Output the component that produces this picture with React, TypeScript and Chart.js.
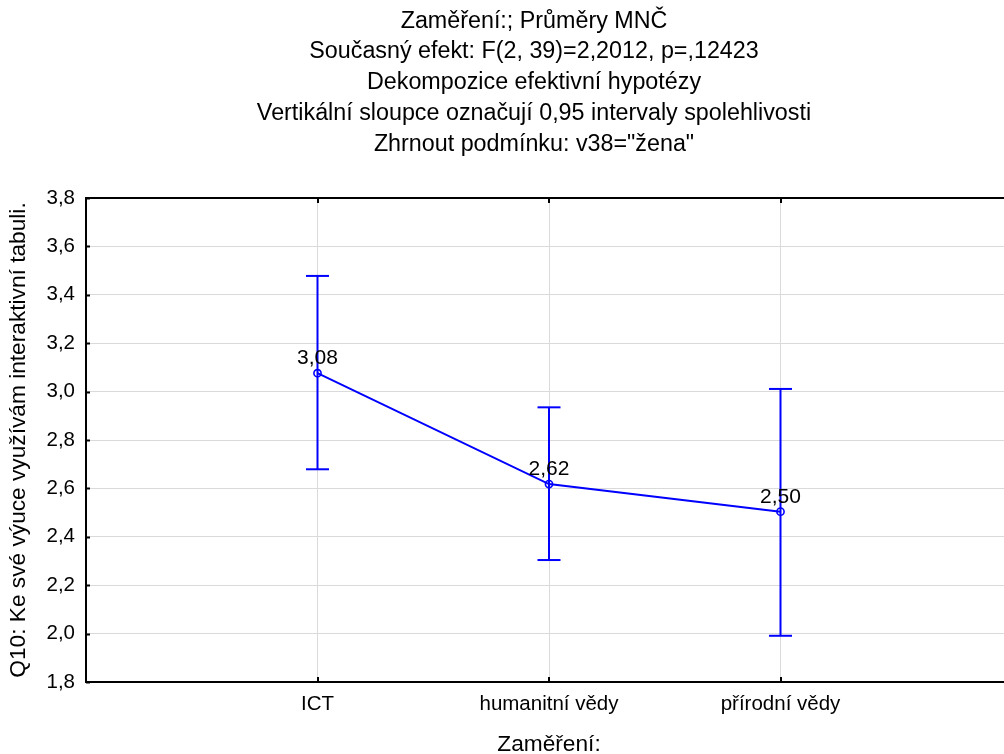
import React, { useEffect, useRef } from "react";
import { Chart, registerables } from "chart.js";

Chart.register(...registerables);

const categories = ["ICT", "humanitní vědy", "přírodní vědy"];
const means = [3.076, 2.618, 2.504];
const lowerCI = [2.679, 2.304, 1.991];
const upperCI = [3.478, 2.935, 3.011];
const yTicks = [1.8, 2.0, 2.2, 2.4, 2.6, 2.8, 3.0, 3.2, 3.4, 3.6, 3.8];
const titleLines = [
  "Zaměření:; Průměry MNČ",
  "Současný efekt: F(2, 39)=2,2012, p=,12423",
  "Dekompozice efektivní hypotézy",
  "Vertikální sloupce označují 0,95 intervaly spolehlivosti",
  'Zhrnout podmínku: v38="žena"',
];
const xTitle = "Zaměření:";
const yTitle = "Q10: Ke své výuce využívám interaktivní tabuli.";

const FONT = "'Liberation Sans', Arial, sans-serif";
const BLUE = "#0000ff";
const GRID = "#dadada";

const fmt2 = (v: number) => v.toFixed(2).replace(".", ",");
const fmt1 = (v: number) => v.toFixed(1).replace(".", ",");

const frameAndLabels = {
  id: "frameAndLabels",
  afterDatasetsDraw(chart: any) {
    const { ctx, chartArea } = chart;
    const xs = chart.scales.x;
    const ys = chart.scales.y;
    ctx.save();
    // top border
    ctx.strokeStyle = "#000";
    ctx.lineWidth = 2;
    ctx.beginPath();
    ctx.moveTo(chartArea.left, chartArea.top);
    ctx.lineTo(chartArea.right, chartArea.top);
    ctx.stroke();
    // inward tick marks
    xs.ticks.forEach((t: any) => {
      const px = Math.round(xs.getPixelForValue(t.value));
      ctx.beginPath();
      ctx.moveTo(px, chartArea.top);
      ctx.lineTo(px, chartArea.top + 5);
      ctx.moveTo(px, chartArea.bottom);
      ctx.lineTo(px, chartArea.bottom - 5);
      ctx.stroke();
    });
    ys.ticks.forEach((t: any) => {
      const py = Math.round(ys.getPixelForValue(t.value)) + 0.5;
      ctx.beginPath();
      ctx.moveTo(chartArea.left, py);
      ctx.lineTo(chartArea.left + 4, py);
      ctx.stroke();
    });
    // value labels
    const meta = chart.getDatasetMeta(0);
    ctx.fillStyle = "#000";
    ctx.font = `21px ${FONT}`;
    ctx.textAlign = "center";
    ctx.textBaseline = "alphabetic";
    meta.data.forEach((pt: any, i: number) => {
      ctx.fillText(fmt2(means[i]), pt.x, pt.y - 9);
    });
    ctx.restore();
  },
};

export default function App() {
  const ref = useRef<HTMLCanvasElement | null>(null);

  useEffect(() => {
    if (!ref.current) return;
    const pts = (arr: number[]) => arr.map((v, i) => ({ x: i + 1, y: v }));
    const whiskers = categories.map((_, i) => ({
      type: "line" as const,
      data: [
        { x: i + 1, y: lowerCI[i] },
        { x: i + 1, y: upperCI[i] },
      ],
      borderColor: BLUE,
      borderWidth: 2,
      pointRadius: 0,
    }));
    const chart = new Chart(ref.current, {
      type: "line",
      data: {
        datasets: [
          {
            data: pts(means),
            borderColor: BLUE,
            borderWidth: 2,
            pointRadius: 3.6,
            pointBorderWidth: 1.6,
            pointBorderColor: BLUE,
            pointBackgroundColor: "rgba(0,0,0,0)",
          },
          ...whiskers,
          {
            data: [...pts(lowerCI), ...pts(upperCI)],
            showLine: false,
            pointStyle: "line",
            pointRadius: 11.5,
            pointBorderWidth: 2,
            pointBorderColor: BLUE,
            borderColor: BLUE,
          },
        ] as any,
      },
      options: {
        animation: false,
        responsive: false,
        devicePixelRatio: 1,
        events: [],
        layout: { padding: 0 },
        plugins: {
          legend: { display: false },
          tooltip: { enabled: false },
          title: {
            display: true,
            text: titleLines,
            color: "#000",
            font: { family: FONT, size: 23.3, weight: "normal", lineHeight: 1.3176 },
            padding: { top: 6, bottom: 38.5 },
          },
        },
        scales: {
          x: {
            type: "linear",
            min: 0,
            max: 4,
            afterBuildTicks: (s: any) => {
              s.ticks = categories.map((_, i) => ({ value: i + 1 }));
            },
            afterFit: (s: any) => {
              s.height = 72;
            },
            ticks: {
              callback: (v: any) => categories[Math.round(Number(v)) - 1] ?? "",
              color: "#000",
              font: { family: FONT, size: 20.5 },
              padding: 10,
              maxRotation: 0,
              autoSkip: false,
            },
            grid: { color: GRID, lineWidth: 1, drawTicks: false },
            border: { display: true, color: "#000", width: 2 },
            title: {
              display: true,
              text: xTitle,
              color: "#000",
              font: { family: FONT, size: 22.7 },
              padding: { top: 0, bottom: -4 },
            },
          },
          y: {
            type: "linear",
            min: 1.8,
            max: 3.8,
            afterBuildTicks: (s: any) => {
              s.ticks = yTicks.map((v) => ({ value: v }));
            },
            afterFit: (s: any) => {
              s.width = 86;
            },
            ticks: {
              callback: (v: any) => fmt1(Number(v)),
              color: "#000",
              font: { family: FONT, size: 20.5 },
              padding: 11,
            },
            grid: { color: GRID, lineWidth: 1, drawTicks: false },
            border: { display: true, color: "#000", width: 2 },
            title: {
              display: true,
              text: yTitle,
              color: "#000",
              font: { family: FONT, size: 22.7 },
              padding: { top: 5.5, bottom: 0 },
            },
          },
          yRight: {
            type: "linear",
            position: "right",
            display: true,
            ticks: { display: false },
            grid: { display: false, drawTicks: false },
            border: { display: false },
            afterFit: (s: any) => {
              s.width = 56;
            },
          },
        },
      } as any,
      plugins: [frameAndLabels],
    });
    return () => chart.destroy();
  }, []);

  return (
    <div
      style={{
        position: "absolute",
        left: 0,
        top: 0,
        width: 1004,
        height: 754,
        overflow: "hidden",
        background: "#fff",
      }}
    >
      <canvas ref={ref} width={1068} height={754} style={{ display: "block" }} />
    </div>
  );
}
